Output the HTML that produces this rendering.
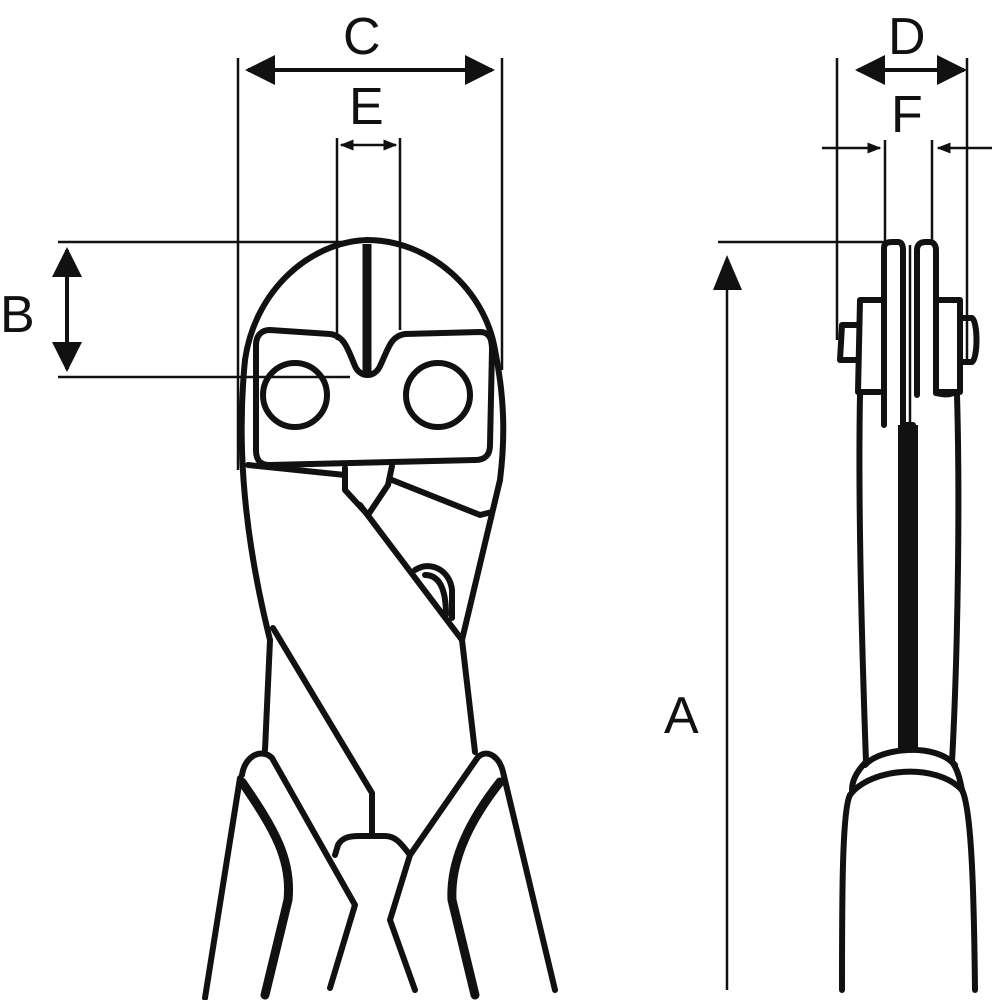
<!DOCTYPE html>
<html><head><style>body{margin:0;background:#fff}svg{display:block}text{font-family:"Liberation Sans",sans-serif;font-size:52px;fill:#111}</style></head>
<body>
<svg width="993" height="1000" viewBox="0 0 993 1000" xmlns="http://www.w3.org/2000/svg">
<defs>
<marker id="ah" viewBox="0 0 10 10" refX="9" refY="5" markerWidth="9" markerHeight="9" markerUnits="userSpaceOnUse" orient="auto-start-reverse"><path d="M0,0 L10,5 L0,10z" fill="#111"/></marker>
<marker id="ahb" viewBox="0 0 10 10" refX="9" refY="5" markerWidth="30" markerHeight="30" markerUnits="userSpaceOnUse" orient="auto-start-reverse"><path d="M0,0 L10,5 L0,10z" fill="#111"/></marker>
<marker id="ahs" viewBox="0 0 10 10" refX="9" refY="5" markerWidth="14" markerHeight="14" markerUnits="userSpaceOnUse" orient="auto-start-reverse"><path d="M0,1 L10,5 L0,9z" fill="#111"/></marker>
</defs>
<g stroke="#111" fill="none" stroke-width="2.5">
<line x1="238" y1="58" x2="238" y2="470"/>
<line x1="502" y1="58" x2="502" y2="370"/>
<line x1="337" y1="138" x2="337" y2="340"/>
<line x1="400" y1="138" x2="400" y2="330"/>
<line x1="58" y1="242" x2="360" y2="242"/>
<line x1="58" y1="377" x2="350" y2="377"/>
<line x1="718" y1="242" x2="886" y2="242"/>
<line x1="727" y1="285" x2="727" y2="990"/>
<line x1="837" y1="58" x2="837" y2="340"/>
<line x1="967" y1="58" x2="967" y2="360"/>
<line x1="885" y1="140" x2="885" y2="245"/>
<line x1="932" y1="140" x2="932" y2="245"/>
<line x1="822" y1="148" x2="880" y2="148" marker-end="url(#ahs)"/>
<line x1="992" y1="148" x2="938" y2="148" marker-end="url(#ahs)"/>
<line x1="248" y1="70" x2="492" y2="70" stroke-width="4" marker-start="url(#ahb)" marker-end="url(#ahb)"/>
<line x1="341" y1="145" x2="396" y2="145" stroke-width="2.5" marker-start="url(#ahs)" marker-end="url(#ahs)"/>
<line x1="67" y1="250" x2="67" y2="369" stroke-width="4" marker-start="url(#ahb)" marker-end="url(#ahb)"/>
<line x1="858" y1="70" x2="964" y2="70" stroke-width="4" marker-start="url(#ahb)" marker-end="url(#ahb)"/>
</g>
<path d="M713,290 L727,255 L742,290z" fill="#111"/>
<g stroke="#111" fill="none" stroke-width="6" stroke-linejoin="round" stroke-linecap="round">
<path d="M245,360 C255,290 310,242 367,240 C430,240 485,290 495,350 C505,400 505,440 500,480 L462,640"/>
<path d="M245,360 C238,430 240,520 270,640"/>
<path d="M367,244 L367,372" stroke-width="9" stroke-linecap="butt"/>
<path d="M270,330 L330,334 C345,336 348,350 355,366 C360,378 375,378 380,366 C388,350 390,336 405,334 L480,332 C490,332 492,340 492,350 L490,445 C490,455 485,460 475,460 L270,465 C260,465 256,460 256,450 L256,345 C256,335 262,330 270,330z"/>
<circle cx="295" cy="395" r="32"/>
<circle cx="438" cy="395" r="32"/>
<path d="M248,465 L345,475"/>
<path d="M345,468 L345,490 L368,515 L388,485 L392,466"/>
<path d="M392,480 L480,515 L492,512"/>
<path d="M360,505 L462,640"/>
<path d="M415,570 C430,560 450,570 452,590 L452,618 M425,575 C440,575 446,590 446,615"/>
<path d="M270,640 L265,750"/>
<path d="M273,628 L372,793 L372,835"/>
<path d="M462,640 L475,752"/>
<path d="M240,778 L205,998"/>
<path d="M242,782 C275,830 292,860 288,900 L265,995" stroke-width="9"/>
<path d="M242,775 C245,755 262,748 272,758 L355,905 L330,988"/>
<path d="M335,855 L338,845 C342,838 348,836 360,836 L385,836 C395,836 400,842 410,855"/>
<path d="M410,855 L478,757 C488,748 500,758 503,772 L555,990"/>
<path d="M410,855 L390,920 L415,990"/>
<path d="M500,782 C470,820 450,860 452,900 L475,995" stroke-width="9"/>
<path d="M884,425 L884,248 C884,243 888,242 892,242 L898,242 C902,242 903,246 903,250 L903,425 L913,425"/>
<path d="M917,395 L917,250 C917,245 920,242 925,242 L930,242 C934,242 936,246 936,250 L936,393 C946,395 950,395 955,392"/>
<path d="M882,300 L860,300 L858,392 L880,392"/>
<path d="M858,325 L842,325 L840,360 L858,360"/>
<path d="M937,300 L960,300 L960,392 L937,392"/>
<path d="M962,318 L972,318 C978,322 978,358 972,362 L962,362"/>
<path d="M860,395 C858,500 862,650 866,762"/>
<path d="M957,395 C960,500 958,650 952,762"/>
<path d="M865,765 C880,748 935,742 955,765"/>
<path d="M850,795 C870,768 935,762 962,790"/>
<path d="M850,795 C842,810 842,900 842,990"/>
<path d="M962,790 C972,810 974,900 975,990"/>
<path d="M852,790 C852,780 858,770 866,762 M962,790 C960,780 958,770 952,762"/>
</g>
<rect x="898" y="425" width="20" height="325" fill="#111"/>
<line x1="910" y1="245" x2="910" y2="425" stroke="#111" stroke-width="2.5"/>
<text x="343" y="54">C</text>
<text x="349" y="124">E</text>
<text x="0" y="332">B</text>
<text x="664" y="733">A</text>
<text x="888" y="54">D</text>
<text x="891" y="132">F</text>
</svg>
</body></html>
